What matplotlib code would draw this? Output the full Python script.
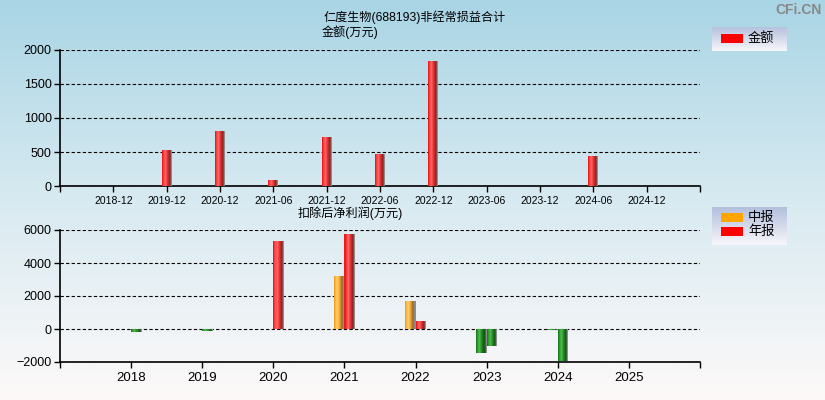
import numpy as np
import matplotlib
matplotlib.use("Agg")
import matplotlib.pyplot as plt
from matplotlib.colors import LinearSegmentedColormap
from matplotlib.patches import Rectangle

plt.rcParams['font.family'] = ['Liberation Sans', 'Noto Sans CJK SC', 'DejaVu Sans']

# ---------------- data ----------------
top_title1 = "仁度生物(688193)非经常损益合计"
top_title2 = "金额(万元)"
top_categories = ["2018-12", "2019-12", "2020-12", "2021-06", "2021-12", "2022-06",
                  "2022-12", "2023-06", "2023-12", "2024-06", "2024-12"]
top_values = [np.nan, 530, 810, 88, 720, 470, 1835, np.nan, np.nan, 440, np.nan]
top_series = "金额"

bottom_title = "扣除后净利润(万元)"
years = ["2018", "2019", "2020", "2021", "2022", "2023", "2024", "2025"]
mid_values = [np.nan, np.nan, np.nan, 3220, 1700, -1450, -50, np.nan]      # 中报
annual_values = [-180, -110, 5350, 5780, 480, -1030, -1950, np.nan]        # 年报
bottom_series = ["中报", "年报"]
series_colors = ["#FFA500", "#FF0000"]

top_yticks = [0, 500, 1000, 1500, 2000]
bottom_yticks = [-2000, 0, 2000, 4000, 6000]

# ---------------- styles ----------------
RED = ["#e81c1c", "#ff4a4a", "#ff6464", "#f03a3a", "#c02a2a", "#8a2222", "#8c8c8c"]
ORANGE = ["#f0a020", "#ffbf50", "#ffc966", "#f5b040", "#d09030", "#9a6a20", "#8c8c8c"]
GREEN = ["#1f7a1f", "#35a535", "#48b848", "#2e962e", "#1f751f", "#155015", "#8c8c8c"]

W, H = 825, 400
fig = plt.figure(figsize=(W / 100, H / 100), dpi=100)

# background gradient
bg = fig.add_axes([0, 0, 1, 1], zorder=-10)
bgc = LinearSegmentedColormap.from_list("bg", ["#a9d5e5", "#d8eaf1", "#fdf9f9"])
bg.imshow(np.linspace(0, 1, 256).reshape(-1, 1), cmap=bgc, aspect="auto",
          extent=(0, 1, 0, 1), interpolation="bicubic")
bg.set_xlim(0, 1); bg.set_ylim(0, 1)
bg.axis("off")


def fx(px):
    return px / W


def fy(py):
    return 1 - py / H


def grad_bar_series(ax, xs, vals, width, pos_colors, neg_colors, nstrips=10):
    """Draw bars as vertical strips with a horizontal colour gradient."""
    cpos = LinearSegmentedColormap.from_list("p", pos_colors)
    cneg = LinearSegmentedColormap.from_list("n", neg_colors)
    xs = np.asarray(xs, dtype=float)
    vals = np.asarray(vals, dtype=float)
    ok = np.isfinite(vals) & (vals != 0)
    sw = width / nstrips
    for k in range(nstrips):
        off = -width / 2 + (k + 0.5) * sw
        t = k / (nstrips - 1)
        cols = [cpos(t) if v > 0 else cneg(t) for v in vals[ok]]
        ax.bar(xs[ok] + off, vals[ok], width=sw * 1.02, color=cols,
               edgecolor="none", linewidth=0, zorder=3)


def style_axes(ax):
    ax.set_facecolor("none")
    for s in ["top", "right"]:
        ax.spines[s].set_visible(False)
    for s in ["left", "bottom"]:
        ax.spines[s].set_linewidth(1.2)
        ax.spines[s].set_color("black")
    ax.yaxis.grid(True, color="black", linestyle=(0, (3, 2)), linewidth=0.8)
    ax.set_axisbelow(True)
    ax.tick_params(axis="both", direction="out", length=4, width=1, color="black")
    ax.tick_params(axis="y", labelsize=9, pad=2)


def gradient_box(x0, y0, x1, y1):
    la = fig.add_axes([fx(x0), fy(y1), fx(x1 - x0), (y1 - y0) / H], zorder=5)
    lc = LinearSegmentedColormap.from_list("lg", ["#b3bfdd", "#f7f6fa"])
    la.imshow(np.linspace(0, 1, 64).reshape(-1, 1), cmap=lc, aspect="auto",
              extent=(0, 1, 0, 1))
    la.axis("off")


def legend_entry(x, y, color, label):
    fig.patches.append(Rectangle((fx(x), fy(y + 9)), fx(22), 9 / H, transform=fig.transFigure,
                                 facecolor=color, edgecolor="none", zorder=6))
    fig.text(fx(x + 27), fy(y + 4.5), label, fontsize=9.5, va="center", ha="left", zorder=7)


# ---------------- top chart ----------------
ax1 = fig.add_axes([fx(60), fy(186), fx(640), 136 / H])
style_axes(ax1)
xt = np.arange(1, len(top_categories) + 1)
grad_bar_series(ax1, xt, top_values, 0.19, RED, GREEN)
ax1.set_xlim(0, len(top_categories) + 1)
ax1.set_ylim(0, 2000)
ax1.set_yticks(top_yticks)
ax1.set_xticks(np.arange(0, len(top_categories) + 2))
ax1.set_xticklabels([""] + top_categories + [""], fontsize=7.5)
ax1.tick_params(axis="x", pad=3)

fig.text(fx(324), fy(17), top_title1, fontsize=8.7, ha="left", va="center")
fig.text(fx(322), fy(32), top_title2, fontsize=8.7, ha="left", va="center")

gradient_box(712, 27, 787, 51)
legend_entry(721, 34, series_colors[1], top_series)

# ---------------- bottom chart ----------------
ax2 = fig.add_axes([fx(60), fy(362), fx(640), 132 / H])
style_axes(ax2)
xb = np.arange(1, len(years) + 1)
bw = 0.15
grad_bar_series(ax2, xb - bw / 2, mid_values, bw, ORANGE, GREEN)
grad_bar_series(ax2, xb + bw / 2, annual_values, bw, RED, GREEN)
ax2.set_xlim(0, len(years) + 1)
ax2.set_ylim(-2000, 6000)
ax2.set_yticks(bottom_yticks)
ax2.set_xticks(np.arange(0, len(years) + 2))
ax2.set_xticklabels([""] + years + [""], fontsize=9.5)
ax2.tick_params(axis="x", pad=3)

fig.text(fx(350), fy(213), bottom_title, fontsize=8.7, ha="center", va="center")

gradient_box(712, 207, 787, 245)
legend_entry(721, 213, series_colors[0], bottom_series[0])
legend_entry(721, 227, series_colors[1], bottom_series[1])

fig.text(fx(822), fy(10), "CFi.CN", fontsize=10, fontweight="bold", color="#888888",
         ha="right", va="center")

fig.savefig("out.png", dpi=100)
